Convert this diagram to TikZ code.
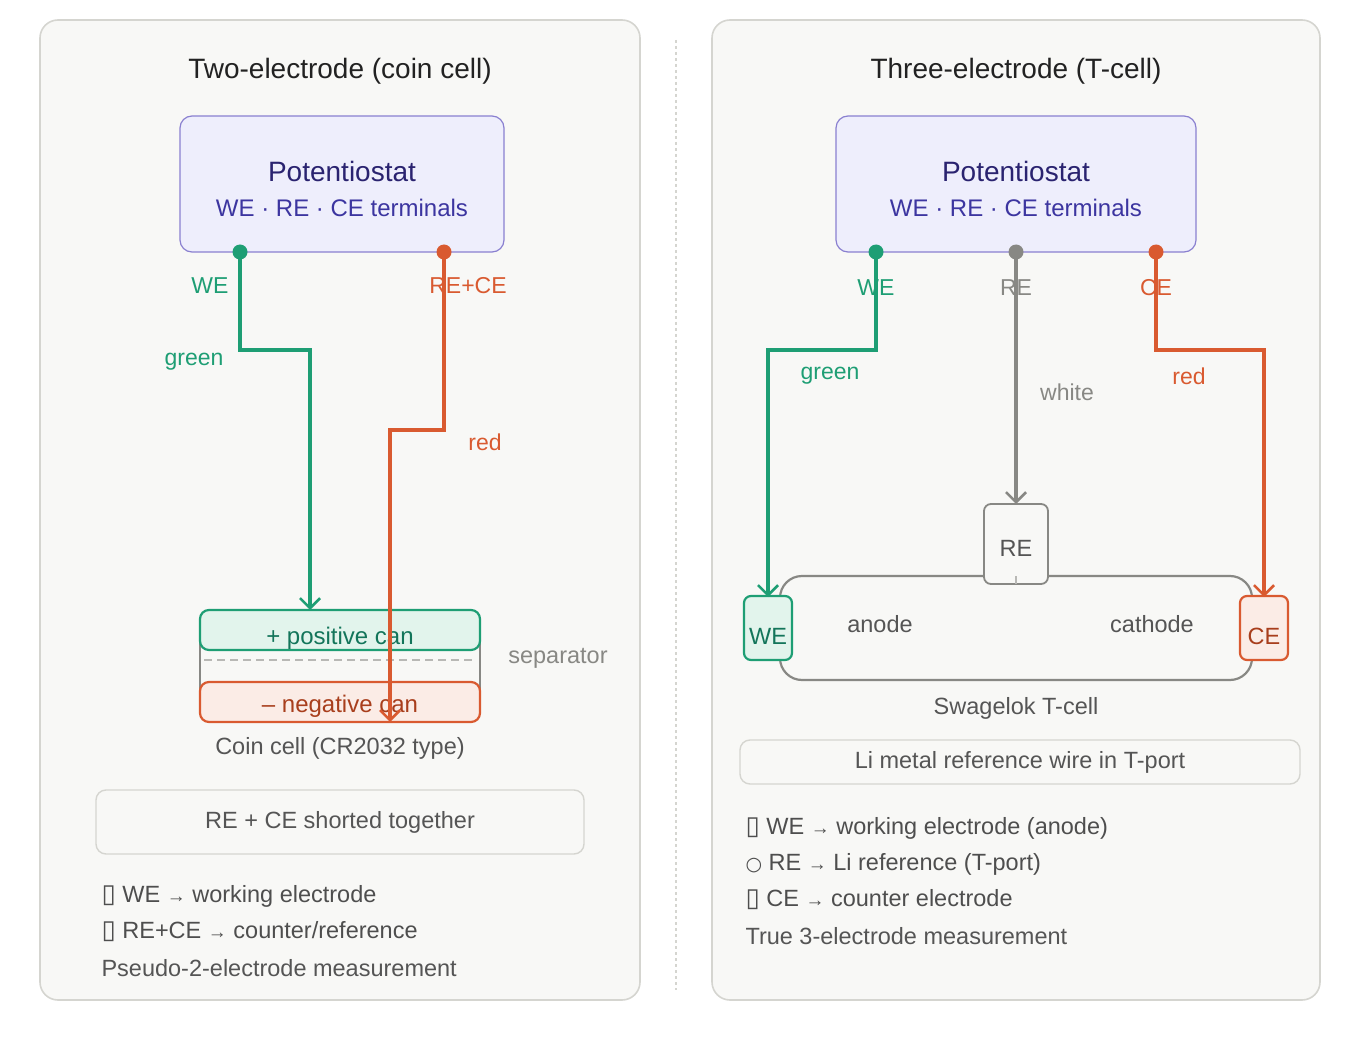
\documentclass[tikz,border=0pt]{standalone}
\usepackage{fontspec}
\setmainfont{Liberation Sans}
\newfontfamily\symf{DejaVu Sans}
\usetikzlibrary{arrows.meta}
\definecolor{pan}{HTML}{F8F8F6}
\definecolor{panl}{HTML}{D5D5D0}
\definecolor{pfill}{HTML}{EEEEFC}
\definecolor{pline}{HTML}{8A80D0}
\definecolor{pt1}{HTML}{2A2370}
\definecolor{pt2}{HTML}{3C35A0}
\definecolor{gr}{HTML}{1E9E74}
\definecolor{grd}{HTML}{13755A}
\definecolor{grf}{HTML}{E2F4EC}
\definecolor{rd}{HTML}{D95A30}
\definecolor{rdd}{HTML}{A83E1C}
\definecolor{rdf}{HTML}{FBECE6}
\definecolor{gy}{HTML}{888884}
\definecolor{tx}{HTML}{555555}
\definecolor{tt}{HTML}{222222}
\newcommand{\tofu}{{\symf\fontsize{26}{28}\selectfont\char"25AF}}
\newcommand{\arr}{{\fontsize{19}{20}\selectfont →}}
\begin{document}
\begin{tikzpicture}[x=1pt,y=-1pt,
  panel/.style={draw=panl,fill=pan,rounded corners=18pt,line width=1.6pt},
  pot/.style={draw=pline,fill=pfill,rounded corners=12pt,line width=1.2pt},
  wire/.style={line width=3.2pt,-{Straight Barb[length=10pt,width=20pt,line width=2.6pt]}},
  lbl/.style={font=\fontsize{23}{27}\selectfont},
  txt/.style={font=\fontsize{23.5}{28}\selectfont,text=tx},
  leg/.style={font=\fontsize{23.5}{28}\selectfont,text=tt!80,anchor=west},
  dot/.style={circle,inner sep=0pt,minimum size=15pt}]
\useasboundingbox (0,0) rectangle (1360,1040);
\fill[white] (0,0) rectangle (1360,1040);
% panels
\draw[panel] (40,20) rectangle (640,1000);
\draw[panel] (712,20) rectangle (1320,1000);
\draw[panl,dashed,line width=1.2pt] (676,40) -- (676,990);
\node[font=\fontsize{28}{32}\selectfont,text=tt] (t1) at (340,71) {Two-electrode (coin cell)};
\node[font=\fontsize{28}{32}\selectfont,text=tt] (t2) at (1016,71) {Three-electrode (T-cell)};
% left potentiostat
\draw[pot] (180,116) rectangle (504,252);
\node[font=\fontsize{28}{32}\selectfont,text=pt1] (p1) at (342,171) {Potentiostat};
\node[font=\fontsize{24}{28}\selectfont,text=pt2] (p1s) at (342,208) {WE · RE · CE terminals};
% coin cell
\draw[gy,line width=2.2pt] (200,630) -- (200,700) (480,630) -- (480,700);
\draw[gy!60,dashed,dash pattern=on 8pt off 5pt,line width=1.4pt] (204,660) -- (476,660);
\draw[draw=gr,fill=grf,rounded corners=9pt,line width=2.2pt] (200,610) rectangle (480,650);
\draw[draw=rd,fill=rdf,rounded corners=9pt,line width=2.2pt] (200,682) rectangle (480,722);
\node[font=\fontsize{24}{28}\selectfont,text=grd] (pos) at (340,638) {+ positive can};
\node[font=\fontsize{24}{28}\selectfont,text=rdd] (neg) at (340,706) {– negative can};
\node[txt,text=gy] (sep) at (558,658) {separator};
\node[txt] (cc) at (340,748) {Coin cell (CR2032 type)};
\coordinate (wt) at (310,610);
\coordinate (rt) at (390,722);
\node[dot,fill=gr] (d1) at (240,252) {};
\node[dot,fill=rd] (d2) at (444,252) {};
\draw[wire,gr] (d1.center) -- (240,350) -- (310,350) -- (wt);
\draw[wire,rd] (d2.center) -- (444,430) -- (390,430) -- (rt);
\node[lbl,text=gr] (l1) at (210,286) {WE};
\node[lbl,text=gr] (l2) at (194,362) {green};
\node[lbl,text=rd] (l3) at (468,286) {RE+CE};
\node[lbl,text=rd] (l4) at (485,442) {red};
\draw[draw=panl,fill=pan,rounded corners=10pt,line width=1.4pt] (96,790) rectangle (584,854);
\node[txt] (sh) at (340,822) {RE + CE shorted together};
\node[leg] (a1) at (98,896) {\tofu\ WE \arr\ working electrode};
\node[leg] (a2) at (98,932) {\tofu\ RE+CE \arr\ counter/reference};
\node[leg,text=tx] (a3) at (98,968) {Pseudo-2-electrode measurement};
% right potentiostat
\draw[pot] (836,116) rectangle (1196,252);
\node[font=\fontsize{28}{32}\selectfont,text=pt1] (p2) at (1016,171) {Potentiostat};
\node[font=\fontsize{24}{28}\selectfont,text=pt2] (p2s) at (1016,208) {WE · RE · CE terminals};
% T-cell
\draw[gy,rounded corners=22pt,line width=2.2pt] (780,576) rectangle (1252,680);
\draw[draw=gy,fill=pan,rounded corners=7pt,line width=1.8pt] (984,504) rectangle (1048,584);
\draw[gy!60,line width=1.2pt] (1016,576) -- (1016,584);
\node[txt] (reb) at (1016,548) {RE};
\draw[draw=gr,fill=grf,rounded corners=7pt,line width=2.2pt] (744,596) rectangle (792,660);
\node[txt,text=grd] (web) at (768,636) {WE};
\draw[draw=rd,fill=rdf,rounded corners=7pt,line width=2.2pt] (1240,596) rectangle (1288,660);
\node[txt,text=rdd] (ceb) at (1264,636) {CE};
\node[txt] (an) at (880,624) {anode};
\node[txt] (ca) at (1152,624) {cathode};
\node[txt] (sw) at (1016,708) {Swagelok T-cell};
\node[dot,fill=gr] (e1) at (876,252) {};
\node[dot,fill=gy] (e2) at (1016,252) {};
\node[dot,fill=rd] (e3) at (1156,252) {};
\draw[wire,gr] (e1.center) -- (876,350) -- (768,350) -- (web.north |- 0,597);
\draw[wire,gy] (e2.center) -- (1016,504);
\draw[wire,rd] (e3.center) -- (1156,350) -- (1264,350) -- (ceb.north |- 0,597);
\node[lbl,text=gr] (m1) at (876,288) {WE};
\node[lbl,text=gr] (m2) at (830,376) {green};
\node[lbl,text=gy] (m3) at (1016,288) {RE};
\node[lbl,text=gy] (m4) at (1067,392) {white};
\node[lbl,text=rd] (m5) at (1156,288) {CE};
\node[lbl,text=rd] (m6) at (1189,376) {red};
\draw[draw=panl,fill=pan,rounded corners=10pt,line width=1.4pt] (740,740) rectangle (1300,784);
\node[txt] (li) at (1020,762) {Li metal reference wire in T-port};
\node[leg] (b1) at (742,828) {\tofu\ WE \arr\ working electrode (anode)};
\node[leg] (b2) at (742,864) {{\symf\fontsize{19}{20}\selectfont\char"25CB} RE \arr\ Li reference (T-port)};
\node[leg] (b3) at (742,900) {\tofu\ CE \arr\ counter electrode};
\node[leg,text=tx] (b4) at (742,936) {True 3-electrode measurement};
\end{tikzpicture}
\end{document}
